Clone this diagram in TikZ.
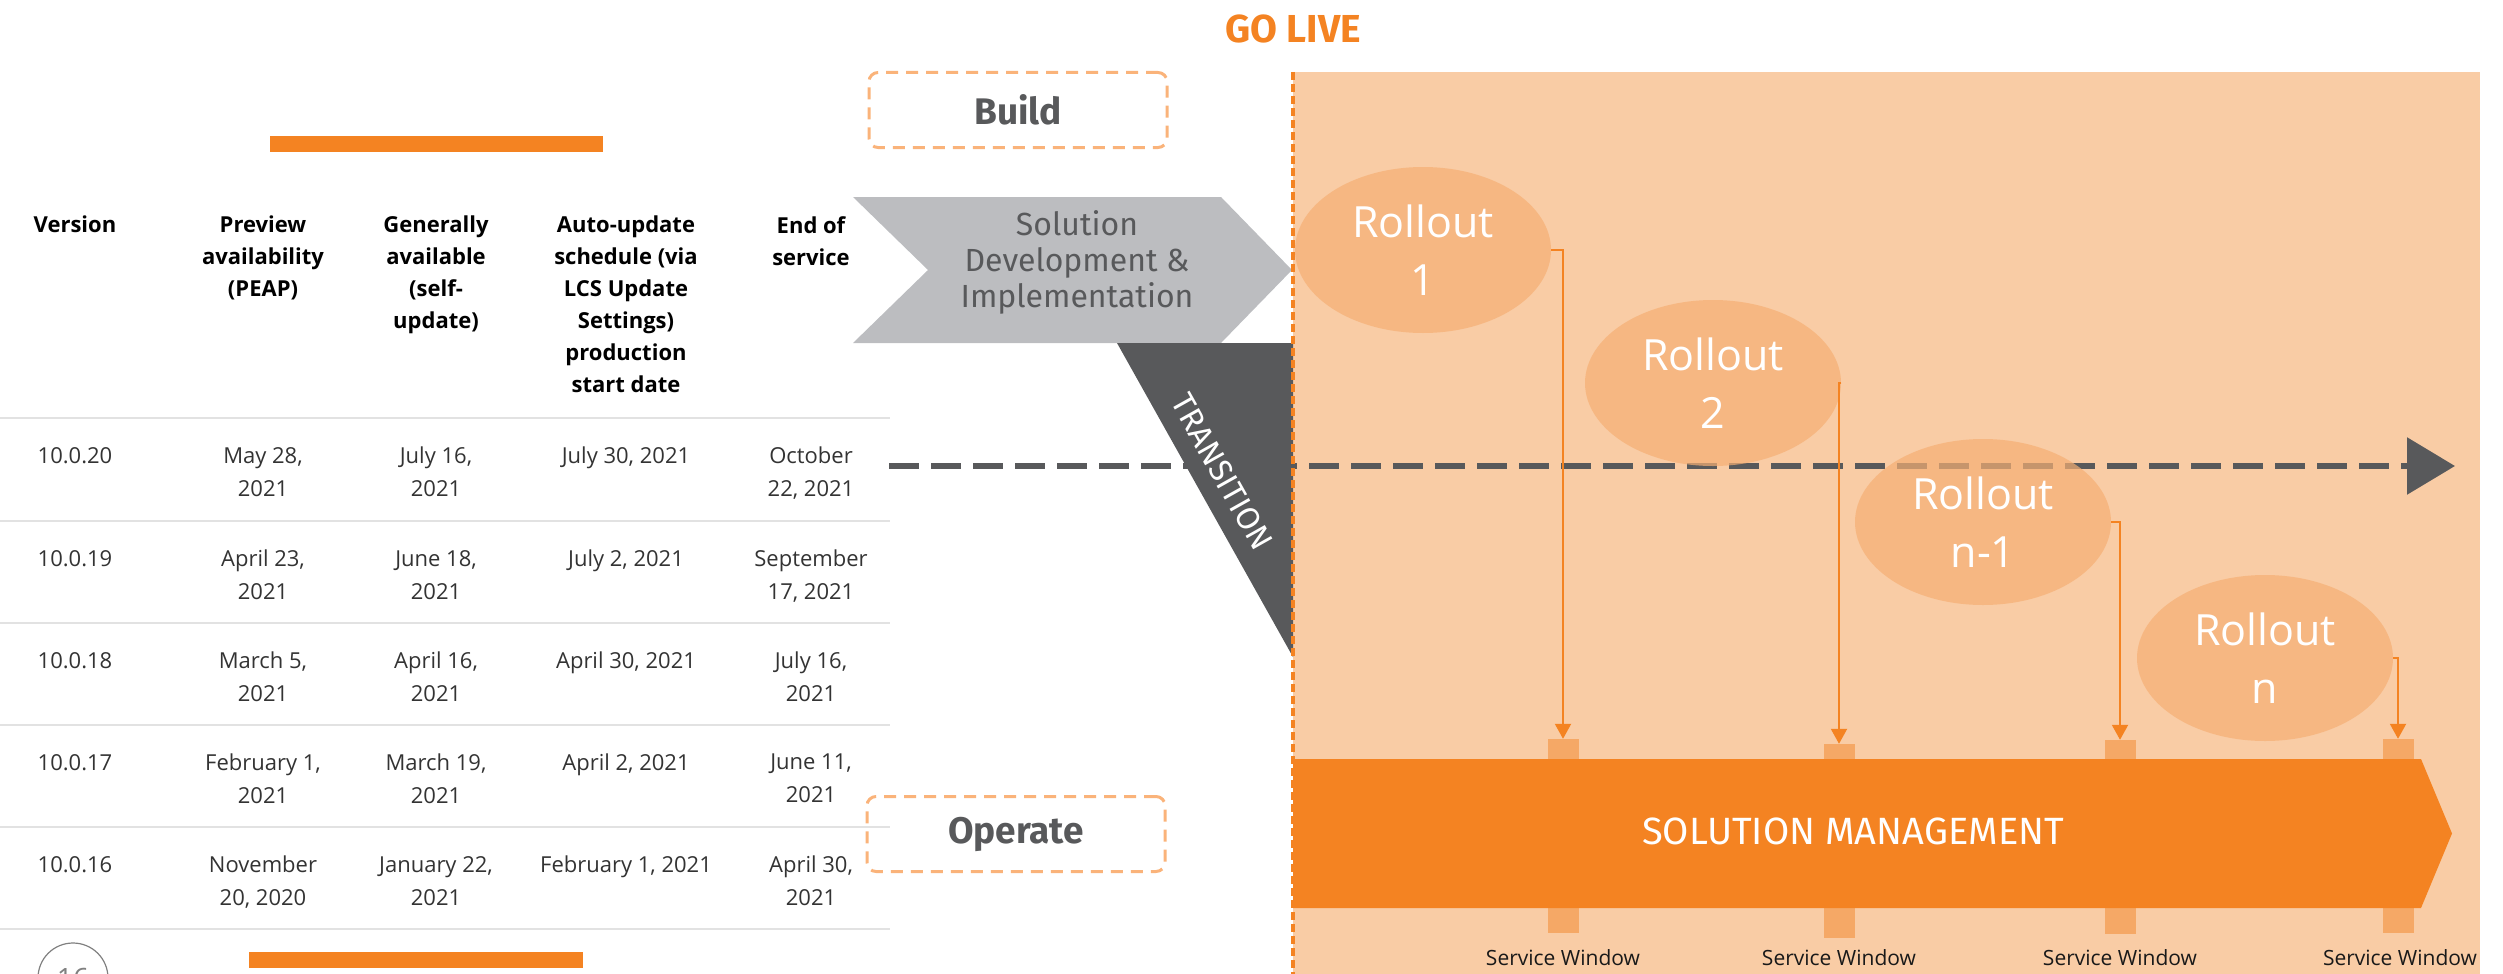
\documentclass[tikz,border=0pt]{standalone}
\usepackage{fontspec}
\setmainfont{Open Sans}
\newfontfamily\dinfont{Fira Sans}
\usepackage{xcolor}
\usetikzlibrary{arrows.meta,shapes.geometric}

\definecolor{liveorange}{HTML}{F48322}
\definecolor{peach}{HTML}{F9CCA5}
\definecolor{rollfill}{HTML}{F6AF74}
\definecolor{winfill}{HTML}{F5A866}
\definecolor{boxdash}{HTML}{FAB37A}
\definecolor{chevgray}{HTML}{BCBDC0}
\definecolor{slate}{HTML}{58595B}
\definecolor{rulegray}{HTML}{E2E2E2}
\definecolor{celltext}{HTML}{333333}

\begin{document}
\begin{tikzpicture}[x=1pt, y=-1pt,
		hdr/.style={anchor=north, align=center, inner sep=0pt, font=\fontsize{22}{32}\selectfont\bfseries},
		cell/.style={anchor=north, align=center, inner sep=0pt, text=celltext, font=\fontsize{22}{33}\selectfont},
		phasebox/.style={draw=boxdash, line width=3pt, dash pattern=on 12pt off 8pt, rounded corners=9pt, minimum width=298pt, minimum height=75pt, text=slate, font=\dinfont\bfseries\fontsize{37}{37}\selectfont},
		rollout/.style={ellipse, fill=rollfill, fill opacity=0.7, text opacity=1, text=white, minimum width=256pt, minimum height=166pt, inner sep=0pt, align=center, font=\fontsize{43}{58}\selectfont},
		winbox/.style={fill=winfill, minimum width=31pt, minimum height=194pt, inner sep=0pt},
		winlabel/.style={inner sep=0pt, text=black!90, font=\fontsize{21}{21}\selectfont},
		feed/.style={draw=liveorange, line width=2pt, -{Triangle[length=15pt,width=16pt]}},
		timeline/.style={draw=slate, line width=6pt, dash pattern=on 30pt off 12pt, -{Triangle[length=48pt,width=56pt]}}]
		
		\useasboundingbox (0,0) rectangle (2503,974);
		
		% go-live area
		\fill[peach] (1293,72) rectangle (2480,974);
		\node[text=liveorange, font=\dinfont\bfseries\fontsize{39}{39}\selectfont] (GL) at (1293,29) {GO LIVE};
		
		% table
		\fill[liveorange] (270,136) rectangle (603,152);
		\fill[liveorange] (249,952) rectangle (583,968);
		\node[shape=circle, draw=gray, line width=1.2pt, minimum size=70pt, inner sep=0pt, text=gray, font=\fontsize{28}{28}\selectfont] (P) at (73,978) {16};
		
		\draw[rulegray, line width=2pt] (0,418) -- (890,418);
		\draw[rulegray, line width=2pt] (0,521) -- (890,521);
		\draw[rulegray, line width=2pt] (0,623) -- (890,623);
		\draw[rulegray, line width=2pt] (0,725) -- (890,725);
		\draw[rulegray, line width=2pt] (0,827) -- (890,827);
		\draw[rulegray, line width=2pt] (0,929) -- (890,929);
		
		\node[hdr] (H1) at (75,216) {Version};
		\node[hdr] (H2) at (263,216) {Preview\\availability\\(PEAP)};
		\node[hdr] (H3) at (436,216) {Generally\\available\\(self-\\update)};
		\node[hdr] (H4) at (626,216) {Auto-update\\schedule (via\\LCS Update\\Settings)\\production\\start date};
		\node[hdr] (H5) at (811,216) {End of\\service};
		
		\node[cell] (A1) at (75,447) {10.0.20};
		\node[cell] (A2) at (263,447) {May 28,\\2021};
		\node[cell] (A3) at (436,447) {July 16,\\2021};
		\node[cell] (A4) at (626,447) {July 30, 2021};
		\node[cell] (A5) at (811,447) {October\\22, 2021};
		
		\node[cell] (B1) at (75,550) {10.0.19};
		\node[cell] (B2) at (263,550) {April 23,\\2021};
		\node[cell] (B3) at (436,550) {June 18,\\2021};
		\node[cell] (B4) at (626,550) {July 2, 2021};
		\node[cell] (B5) at (811,550) {September\\17, 2021};
		
		\node[cell] (C1) at (75,652) {10.0.18};
		\node[cell] (C2) at (263,652) {March 5,\\2021};
		\node[cell] (C3) at (436,652) {April 16,\\2021};
		\node[cell] (C4) at (626,652) {April 30, 2021};
		\node[cell] (C5) at (811,652) {July 16,\\2021};
		
		\node[cell] (D1) at (75,754) {10.0.17};
		\node[cell] (D2) at (263,754) {February 1,\\2021};
		\node[cell] (D3) at (436,754) {March 19,\\2021};
		\node[cell] (D4) at (626,754) {April 2, 2021};
		\node[cell] (D5) at (811,754) {June 11,\\2021};
		
		\node[cell] (E1) at (75,856) {10.0.16};
		\node[cell] (E2) at (263,856) {November\\20, 2020};
		\node[cell] (E3) at (436,856) {January 22,\\2021};
		\node[cell] (E4) at (626,856) {February 1, 2021};
		\node[cell] (E5) at (811,856) {April 30,\\2021};
		
		% phases
		\node[phasebox] (BU) at (1018,110) {Build};
		\node[phasebox] (OP) at (1016,834) {Operate};
		
		\fill[chevgray] (853,197) -- (1221,197) -- (1292,270) -- (1221,343) -- (853,343) -- (928,270) -- cycle;
		\node[align=center, text=slate, font=\dinfont\fontsize{32}{36}\selectfont] (SD) at (1077,262) {Solution\\Development \&\\Implementation};
		
		% time line
		\coordinate (T0) at (889,466);
		\coordinate (T1) at (2455,466);
		\draw[timeline] (T0) -- (T1);
		
		\fill[slate] (1117,343) -- (1293,343) -- (1293,657) -- cycle;
		\node[rotate=-60.7, text=white, font=\dinfont\fontsize{32}{32}\selectfont] (TR) at (1222,472) {TRANSITION};
		
		% rollouts
		\node[rollout] (R1) at (1423,250) {Rollout\\1};
		\node[rollout] (R2) at (1713,383) {Rollout\\2};
		\node[rollout] (R3) at (1983,522) {Rollout\\n-1};
		\node[rollout] (R4) at (2265,658) {Rollout\\n};
		
		\node[winbox] (W1) at (1563,836) {};
		\node[winbox] (W2) at (1839,841) {};
		\node[winbox] (W3) at (2120,837) {};
		\node[winbox] (W4) at (2398,836) {};
		
		\fill[liveorange] (1293,759) -- (2421,759) -- (2452,833.5) -- (2421,908) -- (1293,908) -- cycle;
		\node[text=white, font=\dinfont\fontsize{38}{38}\selectfont] (SM) at (1853,831) {SOLUTION MANAGEMENT};
		
		\draw[feed] (R1.east) -| (W1.north);
		\draw[feed] (R2.east) -| (W2.north);
		\draw[feed] (R3.east) -| (W3.north);
		\draw[feed] (R4.east) -| (W4.north);
		
		\node[winlabel] (S1) at (1563,958) {Service Window};
		\node[winlabel] (S2) at (1839,958) {Service Window};
		\node[winlabel] (S3) at (2120,958) {Service Window};
		\node[winlabel] (S4) at (2400,958) {Service Window};
		
		\draw[liveorange, line width=4pt, dash pattern=on 8pt off 4pt] (1293,72) -- (1293,974);
		
		\end{tikzpicture}
\end{document}
